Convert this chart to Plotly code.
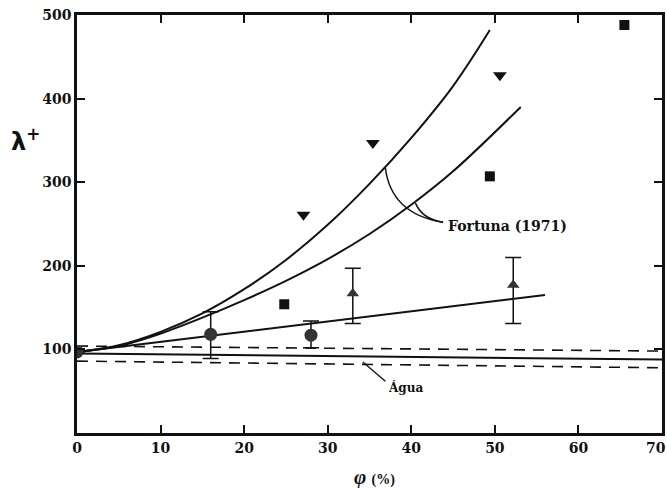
import plotly.graph_objects as go

# Fortuna (1971) correlation curves (phi %, lambda+)
upper_x = [0, 5, 10, 15, 20, 25, 30, 35, 40, 45, 49.4]
upper_y = [97, 105, 121, 143, 172, 207, 249, 298, 353, 415, 482]
lower_x = [0, 5, 10, 15, 20, 25, 30, 35, 40, 45, 53.1]
lower_y = [97, 104, 119, 138, 159, 182, 208, 238, 273, 313, 390]

# linear fit through the measured points
fit_x = [0, 56]
fit_y = [97, 165]

# water reference level with its band
agua_x = [0, 70]
agua_y = [95, 88]
band_hi = [104, 98]
band_lo = [86, 78]

# measured series
tri_down_x = [27.1, 35.4, 50.6]
tri_down_y = [261, 347, 428]
square_x = [24.8, 49.4, 65.5]
square_y = [154, 307, 488]
circle_x = [0, 16, 28]
circle_y = [97, 118, 117]
circle_err_plus = [0, 27, 17]
circle_err_minus = [0, 29, 15]
tri_up_x = [33, 52.2]
tri_up_y = [167, 177]
tri_up_err_plus = [30, 33]
tri_up_err_minus = [36, 46]

x_max = 70
x_ticks = [0, 10, 20, 30, 40, 50, 60]
x_last_label = "70"  # drawn separately so it stays inside the page edge
y_ticks = [100, 200, 300, 400, 500]

ink = "#111111"
fig = go.Figure()

line = dict(color=ink, width=2)
fig.add_trace(go.Scatter(x=upper_x, y=upper_y, mode="lines", line=dict(line, shape="spline"), hoverinfo="skip"))
fig.add_trace(go.Scatter(x=lower_x, y=lower_y, mode="lines", line=dict(line, shape="spline"), hoverinfo="skip"))
fig.add_trace(go.Scatter(x=fit_x, y=fit_y, mode="lines", line=line, hoverinfo="skip"))
fig.add_trace(go.Scatter(x=agua_x, y=agua_y, mode="lines", line=line, hoverinfo="skip"))
fig.add_trace(go.Scatter(x=agua_x, y=band_hi, mode="lines", line=dict(color=ink, width=1.6, dash="11px,8px"), hoverinfo="skip"))
fig.add_trace(go.Scatter(x=agua_x, y=band_lo, mode="lines", line=dict(color=ink, width=1.6, dash="11px,8px"), hoverinfo="skip"))

fig.add_trace(go.Scatter(x=tri_down_x, y=tri_down_y, mode="markers",
                         marker=dict(symbol="triangle-down", size=12, color=ink)))
fig.add_trace(go.Scatter(x=square_x, y=square_y, mode="markers",
                         marker=dict(symbol="square", size=10, color=ink)))
fig.add_trace(go.Scatter(x=circle_x, y=circle_y, mode="markers",
                         marker=dict(symbol="circle", size=13, color="#333333"),
                         error_y=dict(type="data", symmetric=False, array=circle_err_plus,
                                      arrayminus=circle_err_minus, color=ink, thickness=1.5, width=8)))
fig.add_trace(go.Scatter(x=tri_up_x, y=tri_up_y, mode="markers",
                         marker=dict(symbol="triangle-up", size=11, color="#333333"),
                         error_y=dict(type="data", symmetric=False, array=tri_up_err_plus,
                                      arrayminus=tri_up_err_minus, color=ink, thickness=1.5, width=8)))

# leaders for the Fortuna label
fig.add_shape(type="path", xref="x", yref="y",
              path="M 36.9,317 Q 37.6,262 43.8,252", line=dict(color=ink, width=1.5))
fig.add_shape(type="path", xref="x", yref="y",
              path="M 40.5,275 Q 41.3,256 43.8,252", line=dict(color=ink, width=1.5))
# leader for the Água label
fig.add_shape(type="line", xref="x", yref="y", x0=34.2, y0=85, x1=36.9, y1=62,
              line=dict(color=ink, width=1.3))

serif = "DejaVu Serif"
fig.add_annotation(x=44.1, y=248, xref="x", yref="y", text="Fortuna (1971)", showarrow=False,
                   xanchor="left", yanchor="middle",
                   font=dict(family=serif, size=14, color=ink, weight="bold"))
fig.add_annotation(x=37.0, y=55, xref="x", yref="y", text="Água", showarrow=False,
                   xanchor="left", yanchor="middle",
                   font=dict(family=serif, size=12, color=ink, weight="bold"))

tick_font = dict(family=serif, size=14, color=ink, weight="bold")
axis_common = dict(showline=True, linewidth=2.5, linecolor=ink, mirror="ticks",
                   ticks="inside", ticklen=8, tickwidth=2, tickcolor=ink,
                   showgrid=False, zeroline=False, automargin=False,
                   tickfont=tick_font)

fig.update_layout(
    width=667, height=488,
    margin=dict(l=77, r=5, t=15, b=55),
    paper_bgcolor="white", plot_bgcolor="white",
    showlegend=False,
    xaxis=dict(axis_common, range=[0, x_max], tickvals=x_ticks),
    yaxis=dict(axis_common, range=[0, 500], tickvals=y_ticks),
)

# last x tick label, nudged left of the right edge
fig.add_annotation(x=x_max, y=0, xref="x", yref="paper", text=x_last_label,
                   showarrow=False, xanchor="right", yanchor="middle",
                   xshift=5, yshift=-15, borderpad=0, font=tick_font)

# axis titles
fig.add_annotation(x=0.509, y=-0.105, xref="paper", yref="paper",
                   text="<i>φ</i> <span style='font-size:14px'>(%)</span>",
                   showarrow=False, xanchor="center", yanchor="middle",
                   font=dict(family="Liberation Serif", size=21, color=ink, weight="bold"))
fig.add_annotation(x=-0.088, y=0.70, xref="paper", yref="paper", text="λ<sup>+</sup>",
                   showarrow=False, xanchor="center", yanchor="middle",
                   font=dict(family="DejaVu Sans", size=24, color=ink, weight="bold"))

fig.write_html("out.html")
